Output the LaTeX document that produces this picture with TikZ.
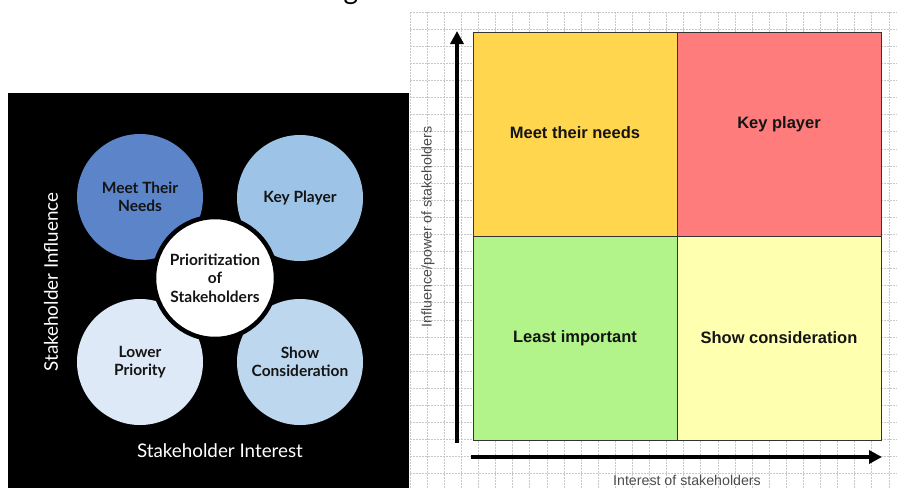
\documentclass[tikz,border=0pt]{standalone}
\usepackage{fontspec}
\setmainfont{Lato}
\newfontfamily\arialf{Liberation Sans}
\usetikzlibrary{arrows.meta}
\definecolor{cmtn}{RGB}{91,132,201}
\definecolor{ckp}{RGB}{157,195,230}
\definecolor{clp}{RGB}{221,233,246}
\definecolor{csc}{RGB}{189,215,238}
\definecolor{qyel}{RGB}{255,214,77}
\definecolor{qred}{RGB}{255,124,124}
\definecolor{qgrn}{RGB}{179,244,138}
\definecolor{qlyl}{RGB}{255,255,176}
\definecolor{ctxt}{RGB}{20,20,20}
\definecolor{gridc}{RGB}{200,200,200}
\tikzset{
  gridline/.style={gridc, line width=0.6pt, dash pattern=on 1.5pt off 1.5pt},
  bubble/.style={circle, minimum size=126pt, inner sep=0pt, draw=none, text=ctxt, align=center,
    font=\fontsize{15.5}{18}\selectfont\bfseries},
  hub/.style={circle, minimum size=122pt, inner sep=0pt, fill=white, draw=black, line width=4.5pt,
    text=ctxt, align=center, font=\fontsize{15.5}{18.5}\selectfont\bfseries},
  quad/.style={rectangle, minimum width=204pt, minimum height=204pt, inner sep=0pt, outer sep=0pt,
    draw=black!80, line width=0.8pt},
  qtext/.style={text=ctxt, font=\arialf\fontsize{16.5}{19}\selectfont\bfseries},
  axisarrow/.style={line width=4pt, -{Triangle[width=13pt,length=13pt]}},
  axlabel/.style={text=black!70, font=\arialf\fontsize{14.2}{16}\selectfont},
  wlabel/.style={text=white, font=\fontsize{18.8}{22}\selectfont}
}
\begin{document}
\begin{tikzpicture}[x=1pt,y=-1pt]
\useasboundingbox (0,0) rectangle (897,488);
\fill[white] (0,0) rectangle (897,488);
% cut-off title fragment
\node[anchor=base, inner sep=0pt, font=\fontsize{28}{30}\selectfont] (ttl) at (351,-1) {g};
% grid
\begin{scope}
  \clip (410,12) rectangle (897,488);
  \foreach \i in {0,...,29} \draw[gridline] ({410+17.1*\i},12) -- ({410+17.1*\i},488);
  \foreach \j in {0,...,28} \draw[gridline] (410,{12+17.1*\j}) -- (897,{12+17.1*\j});
\end{scope}
% left panel
\fill[black] (8,93) rectangle (409,488);
\node[bubble, fill=cmtn] (mtn) at (140,197) {Meet Their\\Needs};
\node[bubble, fill=ckp] (kp) at (300,198) {Key Player};
\node[bubble, fill=clp] (lp) at (140,362) {Lower\\Priority};
\node[bubble, fill=csc] (sc) at (300,362) {Show\\Consideration};
\node[hub] (hub) at (215,278) {Prioritization\\of\\Stakeholders};
\node[wlabel, rotate=90] (infl) at (51,282) {Stakeholder Influence};
\node[wlabel] (intr) at (220,451) {Stakeholder Interest};
% right panel quadrants
\node[quad, fill=qyel, anchor=north west] (q1) at (473,32) {};
\node[quad, fill=qred, anchor=north west] (q2) at (677,32) {};
\node[quad, fill=qgrn, anchor=north west] (q3) at (473,236) {};
\node[quad, fill=qlyl, anchor=north west] (q4) at (677,236) {};
\node[qtext] (t1) at ([yshift=1pt]q1.center) {Meet their needs};
\node[qtext] (t2) at ([yshift=10pt]q2.center) {Key player};
\node[qtext] (t3) at (q3.center) {Least important};
\node[qtext] (t4) at (q4.center) {Show consideration};
% axes
\coordinate (yb) at (457,443);
\coordinate (yt) at (457,31);
\coordinate (xl) at (471,457);
\coordinate (xr) at (882,457);
\draw[axisarrow] (yb) -- (yt);
\draw[axisarrow] (xl) -- (xr);
\node[axlabel, rotate=90] (ylab) at (428,227) {Influence/power of stakeholders};
\node[axlabel] (xlab) at (687,480) {Interest of stakeholders};
\end{tikzpicture}
\end{document}
